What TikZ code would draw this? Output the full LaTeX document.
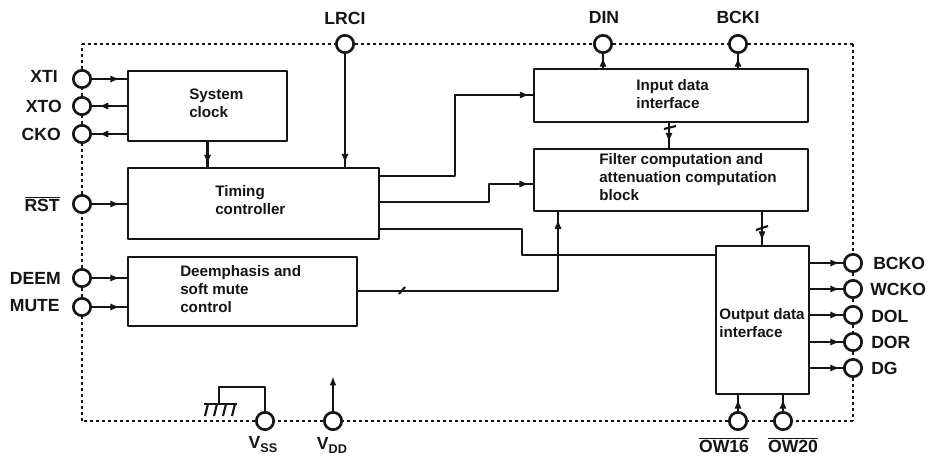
\documentclass[tikz,border=0pt]{standalone}
\usepackage{fontspec}
\setmainfont{Liberation Sans}
\usetikzlibrary{arrows.meta,decorations.markings}
\definecolor{ink}{HTML}{151515}
\tikzset{
  x=0.75pt,y=-0.75pt,
  every node/.style={font=\bfseries,text=ink,inner sep=0pt},
  blockbox/.style={draw=ink,line width=2pt,fill=white,minimum width=#1,rectangle,line join=round},
  pin/.style={draw=ink,line width=2pt,fill=white,circle,minimum size=13pt},
  frameline/.style={draw=ink,line width=1.7pt,dash pattern=on 2.6pt off 1.9pt},
  wire/.style={draw=ink,line width=1.6pt,line join=round},
  tipat/.style={postaction={decorate},decoration={markings,mark=at position #1 with {\arrow{Latex[length=7pt,width=5.5pt]}}}},
  pinlabel/.style={font=\fontsize{13.2}{15}\selectfont\bfseries},
  blocklabel/.style={font=\fontsize{11.4}{13.5}\selectfont\bfseries,align=left,anchor=north west},
}
\newcommand{\tinysub}[1]{\raisebox{-3pt}{\fontsize{9.5}{10}\selectfont #1}}
\begin{document}
\begin{tikzpicture}
\useasboundingbox[fill=white] (0,0) rectangle (937,456);
% frame corners
\coordinate (tl) at (82,44);
\coordinate (tr) at (853,44);
\coordinate (bl) at (82,421);
\coordinate (br) at (853,421);
% pins
\node[pin] (xti)  at (82,79) {};
\node[pin] (xto)  at (82,106) {};
\node[pin] (cko)  at (82,134) {};
\node[pin] (rst)  at (82,204) {};
\node[pin] (deem) at (82,278) {};
\node[pin] (mute) at (82,307) {};
\node[pin] (lrci) at (345,44) {};
\node[pin] (din)  at (603,44) {};
\node[pin] (bcki) at (738,44) {};
\node[pin] (vss)  at (265,421) {};
\node[pin] (vdd)  at (333,421) {};
\node[pin] (ow16) at (738,421) {};
\node[pin] (ow20) at (783,421) {};
\node[pin] (bcko) at (853,263) {};
\node[pin] (wcko) at (853,289) {};
\node[pin] (dol)  at (853,315) {};
\node[pin] (dor)  at (853,342) {};
\node[pin] (dg)   at (853,368) {};
% dashed outline
\foreach \a/\b in {tl/lrci,lrci/din,din/bcki,bcki/tr,tr/bcko,bcko/wcko,wcko/dol,dol/dor,dor/dg,dg/br,
  br/ow20,ow20/ow16,ow16/vdd,vdd/vss,vss/bl,bl/mute,mute/deem,deem/rst,rst/cko,cko/xto,xto/xti,xti/tl}
  \draw[frameline] (\a) -- (\b);
% blocks
\node[blockbox=119.25pt,minimum height=52.5pt] (sys) at (207.5,106) {};
\node[blockbox=188.25pt,minimum height=53.25pt] (tim) at (253.5,203.5) {};
\node[blockbox=171.75pt,minimum height=51.75pt] (dee) at (242.5,291.5) {};
\node[blockbox=205.5pt,minimum height=39.75pt] (inp) at (671,95.5) {};
\node[blockbox=205.5pt,minimum height=46.5pt] (fil) at (671,180) {};
\node[blockbox=69.75pt,minimum height=111pt] (out) at (762.5,320) {};
% block text
\node[blocklabel] (tsys) at (189,89) {System\\clock};
\node[blocklabel] (ttim) at (215,185) {Timing\\controller};
\node[blocklabel] (tdee) at (180,265) {Deemphasis and\\soft mute\\control};
\node[blocklabel] (tinp) at (636,79) {Input data\\interface};
\node[blocklabel] (tfil) at (599,153) {Filter computation and\\attenuation computation\\block};
\node[blocklabel] (tout) at (719,308) {Output data\\interface};
% pin labels
\node[pinlabel,anchor=east] (lxti) at (58,76) {XTI};
\node[pinlabel,anchor=east] (lxto) at (62,106) {XTO};
\node[pinlabel,anchor=east] (lcko) at (61,134) {CKO};
\node[pinlabel,anchor=east] (lrst) at (60,204) {$\overline{\hbox{RST}}$};
\node[pinlabel,anchor=east] (ldeem) at (61,278) {DEEM};
\node[pinlabel,anchor=east] (lmute) at (60,306) {MUTE};
\node[pinlabel] (llrci) at (345,18) {LRCI};
\node[pinlabel] (ldin) at (604,17) {DIN};
\node[pinlabel] (lbcki) at (738,17) {BCKI};
\node[pinlabel] (lvss) at (263,445) {V\tinysub{SS}};
\node[pinlabel] (lvdd) at (332,445) {V\tinysub{DD}};
\node[pinlabel] (low16) at (724,445) {$\overline{\hbox{OW16}}$};
\node[pinlabel] (low20) at (793,445) {$\overline{\hbox{OW20}}$};
\node[pinlabel,anchor=west] (lbcko) at (873,263) {BCKO};
\node[pinlabel,anchor=west] (lwcko) at (870,289) {WCKO};
\node[pinlabel,anchor=west] (ldol) at (871,316) {DOL};
\node[pinlabel,anchor=west] (ldor) at (871,342) {DOR};
\node[pinlabel,anchor=west] (ldg) at (871,368) {DG};
% wires: left side
\draw[wire,tipat=0.8] (xti) -- (xti -| sys.west);
\draw[wire,tipat=0.8] (xto -| sys.west) -- (xto);
\draw[wire,tipat=0.8] (cko -| sys.west) -- (cko);
\draw[wire,tipat=0.8] (rst) -- (rst -| tim.west);
\draw[wire,tipat=0.8] (deem) -- (deem -| dee.west);
\draw[wire,tipat=0.8] (mute) -- (mute -| dee.west);
% internal
\draw[wire,tipat=0.9] (sys.south) -- (sys.south |- tim.north);
\draw[wire,tipat=0.97] (lrci) -- (lrci |- tim.north);
\coordinate (t1) at (379,176);
\coordinate (t2) at (379,202);
\coordinate (t3) at (379,229);
\coordinate (d1) at (357,291);
\coordinate (i1) at (534,95);
\coordinate (f1) at (534,184);
\coordinate (o1) at (716,255);
\coordinate (f2) at (558,211);
\draw[wire,tipat=0.98] (t1) -| (455,95) -- (i1);
\draw[wire,tipat=0.97] (t2) -| (489,184) -- (f1);
\draw[wire] (t3) -| (522,255) -- (o1);
\draw[wire,tipat=0.97] (d1) -| (f2);
\coordinate (ii) at (669,122);
\coordinate (ff) at (669,149);
\draw[wire,tipat=0.75] (ii) -- (ff);
\draw[wire] (664,129) -- (676,126);
\coordinate (f3) at (762,211);
\coordinate (o2) at (762,246);
\draw[wire,tipat=0.85] (f3) -- (o2);
\draw[wire] (756,230) -- (768,226);
\draw[wire] (399,294) -- (405,287);
% top pins
\draw[wire,tipat=0.75] (din |- inp.north) -- (din);
\draw[wire,tipat=0.75] (bcki |- inp.north) -- (bcki);
% bottom pins
\draw[wire,tipat=0.75] (ow16) -- (ow16 |- out.south);
\draw[wire,tipat=0.75] (ow20) -- (ow20 |- out.south);
% right pins
\draw[wire,tipat=0.9] (bcko -| out.east) -- (bcko);
\draw[wire,tipat=0.9] (wcko -| out.east) -- (wcko);
\draw[wire,tipat=0.9] (dol -| out.east) -- (dol);
\draw[wire,tipat=0.9] (dor -| out.east) -- (dor);
\draw[wire,tipat=0.9] (dg -| out.east) -- (dg);
% VDD and ground
\coordinate (vddtop) at (333,376);
\draw[wire,-{Latex[length=7pt,width=5pt]}] (vdd) -- (vddtop);
\coordinate (gnd) at (219,404);
\draw[wire] (vss) -- (vss |- 0,387) -- (219,387) -- (gnd);
\draw[wire] (204,404) -- (237,404);
\foreach \k in {208,217,226,235} \draw[wire] (\k,404) -- (\k-3,416);
\end{tikzpicture}
\end{document}
